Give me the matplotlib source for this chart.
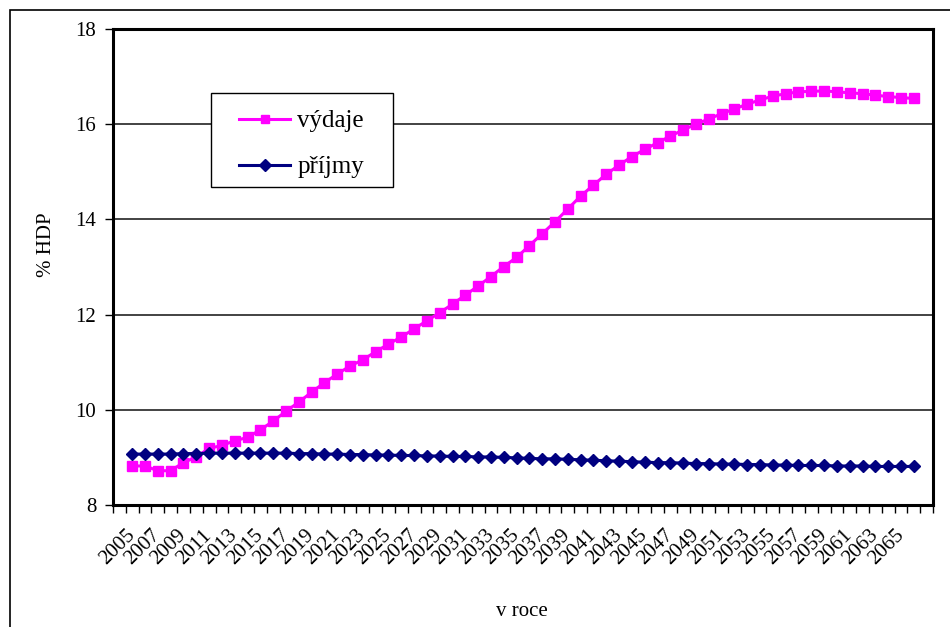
import matplotlib
matplotlib.use("Agg")
import matplotlib.pyplot as plt
from matplotlib.patches import Rectangle
import numpy as np

plt.rcParams["font.family"] = ["Liberation Serif", "DejaVu Serif"]

years = list(range(2005, 2067))

vydaje = [8.82, 8.82, 8.72, 8.72, 8.89, 9.01, 9.19, 9.25, 9.35, 9.42,
          9.58, 9.76, 9.97, 10.16, 10.37, 10.57, 10.75, 10.92, 11.05, 11.22,
          11.38, 11.53, 11.70, 11.87, 12.04, 12.22, 12.41, 12.60, 12.80, 13.01,
          13.20, 13.45, 13.70, 13.95, 14.22, 14.49, 14.72, 14.95, 15.14, 15.32,
          15.47, 15.61, 15.75, 15.88, 16.00, 16.11, 16.22, 16.32, 16.42, 16.51,
          16.59, 16.64, 16.68, 16.69, 16.70, 16.68, 16.66, 16.64, 16.61, 16.58,
          16.56, 16.54]

prijmy = [9.07, 9.07, 9.07, 9.07, 9.08, 9.08, 9.09, 9.09, 9.09, 9.09,
          9.09, 9.09, 9.09, 9.08, 9.08, 9.07, 9.07, 9.06, 9.06, 9.05,
          9.05, 9.04, 9.04, 9.03, 9.03, 9.02, 9.02, 9.01, 9.01, 9.00,
          8.99, 8.98, 8.97, 8.97, 8.96, 8.95, 8.94, 8.93, 8.92, 8.91,
          8.90, 8.89, 8.89, 8.88, 8.87, 8.87, 8.86, 8.86, 8.85, 8.85,
          8.84, 8.84, 8.83, 8.83, 8.83, 8.82, 8.82, 8.82, 8.81, 8.81,
          8.81, 8.81]

y_ticks = [8, 10, 12, 14, 16, 18]

W, H = 950, 627
fig = plt.figure(figsize=(W / 100, H / 100), dpi=100)


def fx(px):
    return px / W


def fy(py):
    return 1 - py / H


# outer chart frame
fig.patches.append(Rectangle((fx(10), -0.05), 1.1, fy(10) + 0.05,
                             transform=fig.transFigure, fill=False,
                             edgecolor="black", linewidth=1.2))

left, right, top, bottom = 113, 933, 29, 505
ax = fig.add_axes([fx(left), fy(bottom), (right - left) / W, (bottom - top) / H])

x = np.arange(len(years))
ax.plot(x, vydaje, color="#FF00FF", marker="s", markersize=7.5, linewidth=2.2,
        label="výdaje", zorder=3)
ax.plot(x, prijmy, color="#000080", marker="D", markersize=6.5, linewidth=2.2,
        label="příjmy", zorder=3)

ax.set_xlim(-1.5, len(years) + 0.5)
ax.set_ylim(8, 18)
ax.set_yticks(y_ticks)
ax.set_yticklabels([str(t) for t in y_ticks], fontsize=15)

# category boundaries carry the tick marks, labels sit on the categories
ax.set_xticks(np.arange(-1.5, len(years) + 1.5, 1.0))
ax.set_xticklabels([])
ax.set_xticks(x[::2], minor=True)
ax.set_xticklabels([str(y) for y in years[::2]], minor=True, rotation=45,
                   ha="right", va="center", rotation_mode="anchor", fontsize=15)
ax.tick_params(axis="x", which="minor", length=0, pad=20)
ax.tick_params(axis="x", which="major", length=6, width=1, direction="out")
ax.tick_params(axis="y", length=6, width=1, direction="out", pad=6)

for v in y_ticks[1:-1]:
    ax.axhline(v, color="#222222", linewidth=1.2, zorder=1)

for side in ["left", "right", "bottom", "top"]:
    ax.spines[side].set_linewidth(2.2)
    ax.spines[side].set_color("black")

ax.set_ylabel("% HDP", fontsize=15)
ax.yaxis.set_label_coords((56 - left) / (right - left), (bottom - 245) / (bottom - top))
fig.text(fx(522), fy(612), "v roce", fontsize=15, ha="center", va="center")

# legend box with white fill, entries placed inside it
ax.add_patch(Rectangle((fx(211), fy(187)), (393 - 211) / W, (187 - 93) / H,
                       transform=fig.transFigure, facecolor="white",
                       edgecolor="black", linewidth=1.0, zorder=4, clip_on=False))
leg = ax.legend(loc="center left", bbox_to_anchor=(fx(239), fy(144)),
                bbox_transform=fig.transFigure,
                fontsize=18, frameon=False, handlelength=2.05, borderpad=0,
                labelspacing=0.94, handletextpad=0.28, borderaxespad=0)
leg.set_zorder(5)
for h in leg.legend_handles:
    h.set_markersize(6)

fig.savefig("out.png", dpi=100)
